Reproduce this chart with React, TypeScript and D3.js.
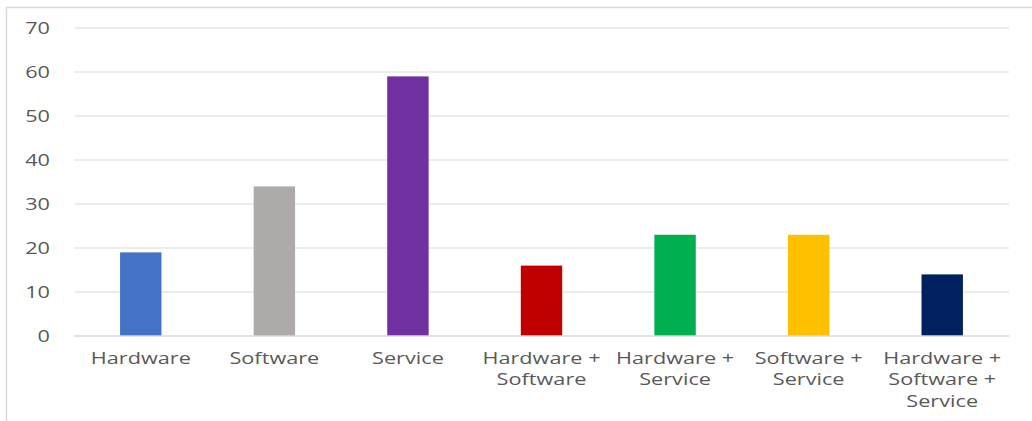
import React from "react";
import * as d3 from "d3";

const categories: string[][] = [
  ["Hardware"],
  ["Software"],
  ["Service"],
  ["Hardware +", "Software"],
  ["Hardware +", "Service"],
  ["Software +", "Service"],
  ["Hardware +", "Software +", "Service"],
];
const values: number[] = [19, 34, 59, 16, 23, 23, 14];
const colors: string[] = ["#4472C4", "#AEAAAA", "#7030A0", "#C00000", "#00B050", "#FFC000", "#002060"];
const yTicks: number[] = [0, 10, 20, 30, 40, 50, 60, 70];

export default function App() {
  const W = 1032, H = 421;
  const left = 74, right = 1009, top = 28, bottom = 336;
  const keys = categories.map((_, i) => String(i));
  const x = d3.scaleBand<string>().domain(keys).range([left, right]).paddingInner(0.69).paddingOuter(0.345);
  const y = d3.scaleLinear().domain([0, 70]).range([bottom, top]);
  const font = "'Open Sans', sans-serif";
  const sx = 1.4;
  return (
    <svg width={W} height={H} style={{ position: "absolute", left: 0, top: 0, background: "#fff" }}>
      <rect x={6.5} y={7.5} width={1040} height={430} fill="#fff" stroke="#D9D9D9" strokeWidth={1.5} />
      {yTicks.map((t) => (
        <g key={t}>
          {t > 0 && <line x1={left} x2={right} y1={y(t)} y2={y(t)} stroke="#D9D9D9" strokeWidth={1} />}
          <text transform={`translate(50,${y(t)}) scale(${sx},1)`} dy="0.36em" textAnchor="end" fontFamily={font} fontSize={15.5} fill="#595959">{t}</text>
        </g>
      ))}
      {values.map((v, i) => (
        <rect key={i} x={x(String(i))} y={y(v)} width={x.bandwidth()} height={y(0) - y(v)} fill={colors[i]} />
      ))}
      <line x1={left} x2={right} y1={y(0)} y2={y(0)} stroke="#D9D9D9" strokeWidth={1.5} />
      {categories.map((lines, i) => (
        <g key={i} transform={`translate(${(x(String(i)) as number) + x.bandwidth() / 2},0) scale(${sx},1)`}>
          <text textAnchor="middle" fontFamily={font} fontSize={15.5} fill="#595959">
            {lines.map((l, j) => (
              <tspan key={j} x={0} y={364 + j * 21.5}>{l}</tspan>
            ))}
          </text>
        </g>
      ))}
    </svg>
  );
}
